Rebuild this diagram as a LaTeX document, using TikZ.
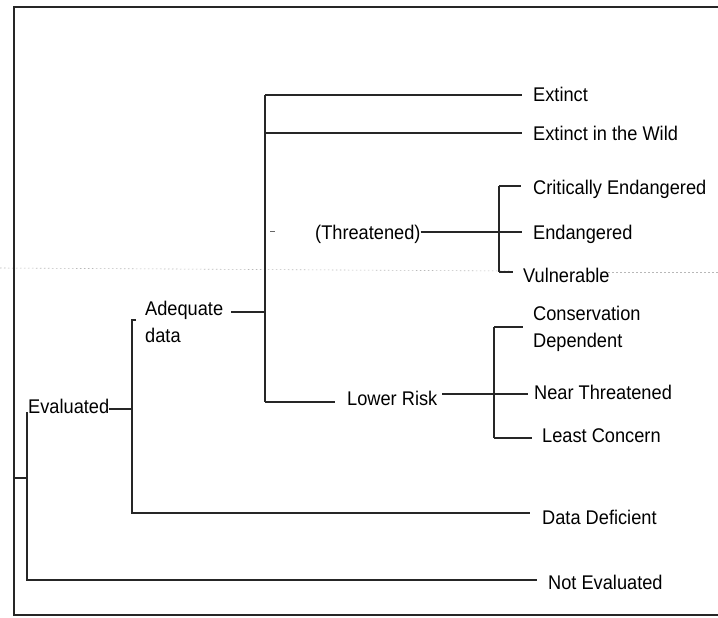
\documentclass[tikz,border=0pt]{standalone}
\usepackage{fontspec}
\setmainfont[FakeStretch=0.92]{Liberation Sans}
\begin{document}
\begin{tikzpicture}[x=1pt,y=-1pt,
  txt/.style={inner sep=0pt, anchor=base west, font=\fontsize{19.8}{27}\selectfont},
  txtb/.style={inner sep=0pt, anchor=west, align=left, font=\fontsize{19.8}{27}\selectfont},
  ln/.style={line width=1.1pt, draw=black!85},
  artifact/.style={draw=black!28, line width=0.6pt, dash pattern=on 1.5pt off 2.5pt}]
\useasboundingbox (0,0) rectangle (718,618);

% scan artefact (faint dotted line)
\draw[artifact] (0,268) -- (510,271);
\draw[artifact] (600,272) -- (718,272);

% frame
\draw[ln] (718,7) -- (14,7) -- (14,615) -- (718,615);

% labels
\node[txt] (ev) at (28,413) {Evaluated};
\node[txtb] (adq) at (145,322) {Adequate\\data};
\node[txt] (ex) at (533,102) {Extinct};
\node[txt] (ew) at (533,140) {Extinct in the Wild};
\node[txt] (th) at (315,239) {(Threatened)};
\node[txt] (ce) at (533,194) {Critically Endangered};
\node[txt] (en) at (533,239) {Endangered};
\node[txt] (vu) at (523,282) {Vulnerable};
\node[txt] (lr) at (347,405) {Lower Risk};
\node[txtb] (cd) at (533,329) {Conservation\\Dependent};
\node[txt] (nt) at (534,399) {Near Threatened};
\node[txt] (lc) at (542,442) {Least Concern};
\node[txt] (dd) at (542,524) {Data Deficient};
\node[txt] (ne) at (548,589) {Not Evaluated};

% branch points
\coordinate (root) at (14,478);
\coordinate (evtop) at (27,412);
\coordinate (evbot) at (27,580);
\coordinate (yev) at (132,409);
\coordinate (aqtop) at (132,320);
\coordinate (aqbot) at (132,513);
\coordinate (yaq) at (265,312);
\coordinate (adtop) at (265,95);
\coordinate (bEw) at (265,133);
\coordinate (adbot) at (265,402);
\coordinate (dashA) at (270,231);
\coordinate (dashB) at (275,231);
\coordinate (yth) at (499,232);
\coordinate (thtop) at (499,186);
\coordinate (thbot) at (499,272);
\coordinate (ylr) at (494,394);
\coordinate (lrtop) at (494,327);
\coordinate (lrbot) at (494,438);

% root -> Evaluated / Not Evaluated
\draw[ln] (root) -- (root -| evtop);
\draw[ln, shorten >=11pt] (evtop) -- (evbot) -- (evbot -| ne.west);

% Evaluated -> Adequate data / Data Deficient
\draw[ln] (ev.east |- yev) -- (yev);
\draw[ln, shorten >=12pt] ([xshift=4pt]aqtop) -- (aqtop) -- (aqbot) -- (aqbot -| dd.west);

% Adequate data -> categories
\draw[ln] ([xshift=8pt]adq.east |- yaq) -- (yaq);
\draw[ln] (adtop) -- (adbot);
\draw[ln, shorten >=11pt] (adtop) -- (adtop -| ex.west);
\draw[ln, shorten >=11pt] (bEw) -- (bEw -| ew.west);
\draw[ln, line width=0.6pt, draw=black!60] (dashA) -- (dashB);
\draw[ln, shorten >=12pt] (adbot) -- (adbot -| lr.west);

% Threatened
\draw[ln, shorten >=11pt] (th.east |- yth) -- (yth -| en.west);
\draw[ln] (thtop) -- (thbot);
\draw[ln, shorten >=12pt] (thtop) -- (thtop -| ce.west);
\draw[ln, shorten >=10pt] (thbot) -- (thbot -| vu.west);

% Lower Risk
\draw[ln, shorten >=6pt] ([xshift=5pt]lr.east |- ylr) -- (ylr -| nt.west);
\draw[ln] (lrtop) -- (lrbot);
\draw[ln, shorten >=10pt] (lrtop) -- (lrtop -| cd.west);
\draw[ln, shorten >=10pt] (lrbot) -- (lrbot -| lc.west);
\end{tikzpicture}
\end{document}
